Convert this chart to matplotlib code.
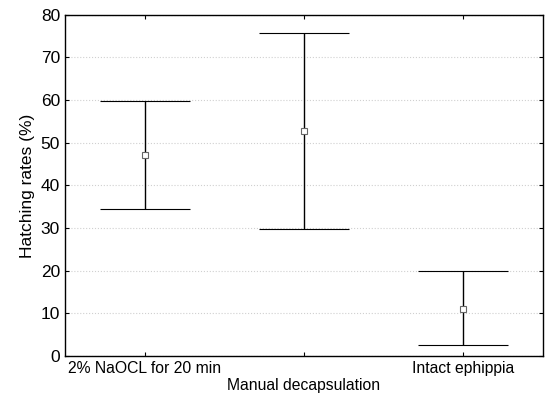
import matplotlib; matplotlib.use("Agg")
import matplotlib.pyplot as plt
import numpy as np

plt.rcParams['font.family'] = ['Liberation Sans', 'DejaVu Sans']

groups = ["2% NaOCL for 20 min", "\nManual decapsulation", "Intact ephippia"]
means = [47.2, 52.8, 11.0]
upper = [59.9, 75.8, 19.9]
lower = [34.5, 29.8, 2.6]

x = np.arange(len(groups))
means = np.array(means); upper = np.array(upper); lower = np.array(lower)

fig, ax = plt.subplots(figsize=(5.5, 4.01), dpi=100)
fig.subplots_adjust(left=0.118, right=0.987, top=0.963, bottom=0.112)

ax.errorbar(x, means, yerr=[means - lower, upper - means], fmt="s", ms=4,
            mfc="white", mec="#666666", mew=0.8, ecolor="black", elinewidth=1.0,
            capsize=32.5, capthick=1.0, zorder=3)

ax.set_xlim(-0.5, 2.5)
ax.set_ylim(0, 80)
ax.set_yticks(np.arange(0, 81, 10))
ax.set_xticks(x)
ax.set_xticklabels(groups, fontsize=11.3)
ax.get_xticklabels()[0].set_x(-0.05)
ax.tick_params(axis="y", labelsize=12.5)
ax.tick_params(direction="in", top=True, right=True, length=3, width=0.8)
ax.set_ylabel("Hatching rates (%)", fontsize=12.5, labelpad=4)
ax.yaxis.grid(True, linestyle=":", color="#d0d0d0", linewidth=0.8)
ax.set_axisbelow(True)
for s in ax.spines.values():
    s.set_linewidth(1.0)

plt.savefig("out.png", dpi=100)
